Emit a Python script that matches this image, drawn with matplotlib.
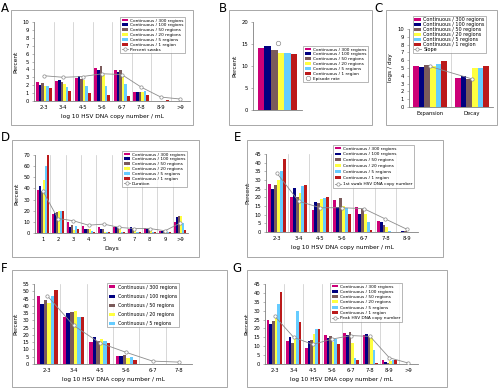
import matplotlib
matplotlib.use('Agg')
import matplotlib.pyplot as plt
from matplotlib.patches import Rectangle
import numpy as np

W, H = 498, 389

series_labels = ["Continuous / 300 regions", "Continuous / 100 regions",
                 "Continuous / 50 regions", "Continuous / 20 regions",
                 "Continuous / 5 regions", "Continuous / 1 region"]
colors = ['#CC0077', '#000080', '#7B5B5B', '#FFFF40', '#66CCFF', '#BB1A1A']
line_color = '#8c8c8c'

# ---- Panel A ----
a_cats = ['2-3', '3-4', '4-5', '5-6', '6-7', '7-8', '8-9', '>9']
a_series = [
    [2.35, 2.5, 2.85, 4.15, 3.9, 1.2, 0.05, 0.0],
    [2.05, 2.7, 3.15, 3.9, 3.7, 1.2, 0.05, 0.0],
    [2.25, 2.4, 2.8, 4.4, 3.95, 1.15, 0.05, 0.0],
    [1.95, 2.2, 2.65, 3.35, 3.35, 1.2, 0.05, 0.0],
    [1.9, 1.8, 1.85, 1.9, 2.1, 1.3, 0.05, 0.0],
    [1.65, 1.3, 1.05, 0.8, 0.65, 0.75, 0.15, 0.0],
]
a_line = [3.2, 3.0, 3.1, 3.45, 3.35, 1.75, 0.5, 0.25]

# ---- Panel B ----
b_cats = ['']
b_series = [[14.2], [14.5], [13.7], [12.9], [12.9], [12.7]]
b_point = [15.3]

# ---- Panel C ----
c_cats = ['Expansion', 'Decay']
c_series = [
    [5.3, 3.75],
    [5.15, 4.0],
    [5.4, 3.6],
    [5.3, 5.0],
    [5.55, 5.05],
    [5.9, 5.3],
]
c_line = [5.2, 3.6]

# ---- Panel D ----
d_cats = ['1', '2', '3', '4', '5', '6', '7', '8', '9', '>9']
d_series = [
    [39, 17.5, 10, 6, 5, 5, 3.5, 4.5, 1.5, 9.5],
    [42, 18, 5, 4, 3.5, 5, 5, 3.5, 2, 14],
    [38, 18.5, 7, 4, 3.5, 4.5, 4, 3.5, 2, 15],
    [48, 19.5, 3, 4, 1, 4, 2, 2, 2, 15],
    [60, 20, 6, 2, 1, 1, 1, 1, 1, 9],
    [70, 20, 4, 1, 1, 0.5, 0.5, 0.5, 0.5, 3],
]
d_line = [38, 13, 11, 7, 8, 5, 4, 4, 2, 9]

# ---- Panel E ----
e_cats = ['2-3', '3-4', '4-5', '5-6', '6-7', '7-8', '8-9']
e_series = [
    [27.5, 20, 12.5, 18.5, 14.5, 6.3, 0.0],
    [25, 25.5, 17.5, 14.5, 10.5, 5.5, 0.3],
    [27, 20, 16.5, 19.5, 13, 4, 0.3],
    [30, 22.5, 19, 15, 10.5, 2.8, 0.0],
    [35, 26.5, 19.5, 14, 5.5, 0.5, 0.0],
    [42, 27, 20, 10.5, 1, 0.0, 0.0],
]
e_line = [34, 17.8, 14, 14, 13.5, 7.5, 1.5]

# ---- Panel F ----
f_cats = ['2-3', '3-4', '4-5', '5-6', '6-7', '7-8']
f_series = [
    [47, 32.5, 15, 5.5, 0, 0],
    [41, 35, 18.5, 5.5, 0, 0],
    [44, 35.5, 15.5, 6, 0, 0],
    [42, 36.5, 17.5, 4, 0, 0],
    [47, 32.5, 16, 5, 0, 0],
    [51, 32, 14.5, 2.5, 0, 0],
]
f_line = [47, 26.5, 14.5, 8, 2, 1.3]

# ---- Panel G ----
g_cats = ['2-3', '3-4', '4-5', '5-6', '6-7', '7-8', '8-9', '>9']
g_series = [
    [25, 13, 9, 16.5, 17.5, 16.5, 2.3, 0],
    [22.5, 15, 13, 14.5, 16.5, 17, 1, 0],
    [24, 12, 13.5, 15.5, 18, 15.5, 0.7, 0],
    [26, 15.5, 17, 12.5, 12, 14.5, 1.5, 0],
    [33.5, 30, 19.5, 14, 3.5, 8, 2, 0],
    [40.5, 23.5, 19.5, 11.5, 2, 0.5, 2, 0],
]
g_line = [27, 15, 11, 14, 16, 15.5, 3.5, 0.5]

plt.rcParams['font.family'] = ['DejaVu Sans']
fig = plt.figure(figsize=(W / 100, H / 100), dpi=100)
fig.patch.set_facecolor('white')

TICK_FS = 3.8
LBL_FS = 4.2


def px_axes(x0, y0, x1, y1):
    return fig.add_axes([x0 / W, 1 - y1 / H, (x1 - x0) / W, (y1 - y0) / H])


def frame(x0, y0, x1, y1, letter, lx, ly):
    fig.patches.append(Rectangle((x0 / W, 1 - y1 / H), (x1 - x0) / W, (y1 - y0) / H,
                                 transform=fig.transFigure, fill=False,
                                 ec='#9a9a9a', lw=0.6))
    fig.text(lx / W, 1 - ly / H, letter, fontsize=8.5, ha='left', va='center')


def bar_panel(ax, cats, series, ymax, ystep, xlabel=None, ylabel='Percent',
              line_vals=None, line_label=None, line_marker_only=False,
              nleg=6, leg_box=None, leg_fs=3.2, leg_spacing=0.2, leg_pad=0.35,
              ylabelpad=3):
    n = len(cats)
    x = np.arange(n)
    bw = 0.8 / 6
    handles = []
    for i, vals in enumerate(series):
        h = ax.bar(x - 0.4 + bw * (i + 0.5), vals, bw, color=colors[i],
                   label=series_labels[i], zorder=2, linewidth=0)
        if i < nleg:
            handles.append(h)
    if line_vals is not None:
        if line_marker_only:
            ln, = ax.plot(x, line_vals, ls='none', marker='o', ms=3.2, mfc='white',
                          mec=line_color, mew=0.5, label=line_label, zorder=3)
        else:
            ln, = ax.plot(x, line_vals, color=line_color, lw=0.6, marker='o', ms=2.4,
                          mfc='white', mec=line_color, mew=0.5, label=line_label, zorder=3)
        if line_label:
            handles.append(ln)
    ax.set_xlim(-0.5, n - 0.5)
    ax.set_ylim(0, ymax)
    ax.set_yticks(np.arange(0, ymax + 0.01, ystep))
    ax.set_xticks(x)
    ax.set_xticklabels(cats)
    for b in np.arange(0.5, n, 1):
        ax.axvline(b, color='#c8c8c8', lw=0.5, zorder=1)
    for s in ['top', 'right']:
        ax.spines[s].set_visible(False)
    for s in ['left', 'bottom']:
        ax.spines[s].set_color('#808080')
        ax.spines[s].set_linewidth(0.6)
    ax.tick_params(axis='y', labelsize=TICK_FS, length=1.5, width=0.4, pad=2,
                   colors='#808080', labelcolor='black')
    ax.tick_params(axis='x', labelsize=TICK_FS, length=0, pad=3)
    if xlabel:
        ax.set_xlabel(xlabel, fontsize=LBL_FS, labelpad=3)
    if ylabel:
        ax.set_ylabel(ylabel, fontsize=LBL_FS, labelpad=ylabelpad)
    if leg_box is not None:
        lx0, ly0 = leg_box
        leg = ax.legend(handles=handles, loc='upper left',
                        bbox_to_anchor=(lx0 / W, 1 - ly0 / H),
                        bbox_transform=fig.transFigure, fontsize=leg_fs,
                        frameon=True, fancybox=False, borderpad=leg_pad,
                        labelspacing=leg_spacing, handlelength=1.4,
                        handleheight=0.6, handletextpad=0.5, borderaxespad=0)
        leg.get_frame().set_edgecolor('#808080')
        leg.get_frame().set_linewidth(0.5)
        leg.set_zorder(5)
    return ax


# Frames and letters
frame(11, 10, 193, 125, 'A', 1, 8)
frame(229, 10, 372, 125, 'B', 219, 8)
frame(386, 10, 497, 125, 'C', 374, 8)
frame(12, 140, 199, 257, 'D', 1, 138)
frame(247, 140, 443, 257, 'E', 234, 138)
frame(12, 270, 227, 387, 'F', 1, 268)
frame(247, 270, 447, 387, 'G', 232, 268)

# A
axA = px_axes(34, 22, 190, 101)
bar_panel(axA, a_cats, a_series, 10, 1, xlabel='log 10 HSV DNA copy number / mL',
          line_vals=a_line, line_label='Percent swabs', leg_box=(120, 17),
          leg_fs=3.1, leg_spacing=0.2)

# B
axB = px_axes(253, 22, 302, 110)
bar_panel(axB, b_cats, b_series, 20, 5, line_vals=b_point, line_label='Episode rate',
          line_marker_only=True, leg_box=(303, 46), leg_fs=3.1, leg_spacing=0.2)

# C
axC = px_axes(409, 29, 493, 107)
bar_panel(axC, c_cats, c_series, 10, 1, ylabel='logs / day', line_vals=c_line,
          line_label='Slope', leg_box=(413, 16), leg_fs=3.5, leg_spacing=0.0,
          leg_pad=0.2)

# D
axD = px_axes(35, 155, 188, 233)
bar_panel(axD, d_cats, d_series, 70, 10, xlabel='Days', line_vals=d_line,
          line_label='Duration', leg_box=(122, 151), leg_fs=3.1, leg_spacing=0.2)

# E
axE = px_axes(266, 154, 418, 232)
bar_panel(axE, e_cats, e_series, 45, 5, xlabel='log 10 HSV DNA copy number / mL',
          line_vals=e_line, line_label='1st swab HSV DNA copy number',
          leg_box=(333, 145), leg_fs=3.1, leg_spacing=0.45)

# F
axF = px_axes(34, 284, 192, 364)
bar_panel(axF, f_cats, f_series, 55, 5, xlabel='log 10 HSV DNA copy number / mL',
          line_vals=f_line, line_label=None, nleg=5, leg_box=(107, 283),
          leg_fs=3.4, leg_spacing=0.85)

# G
axG = px_axes(265, 284, 418, 364)
bar_panel(axG, g_cats, g_series, 45, 5, xlabel='log 10 HSV DNA copy number / mL',
          line_vals=g_line, line_label='Peak HSV DNA copy number',
          leg_box=(330, 283), leg_fs=3.1, leg_spacing=0.3)

fig.savefig('out.png', dpi=100, facecolor='white')
